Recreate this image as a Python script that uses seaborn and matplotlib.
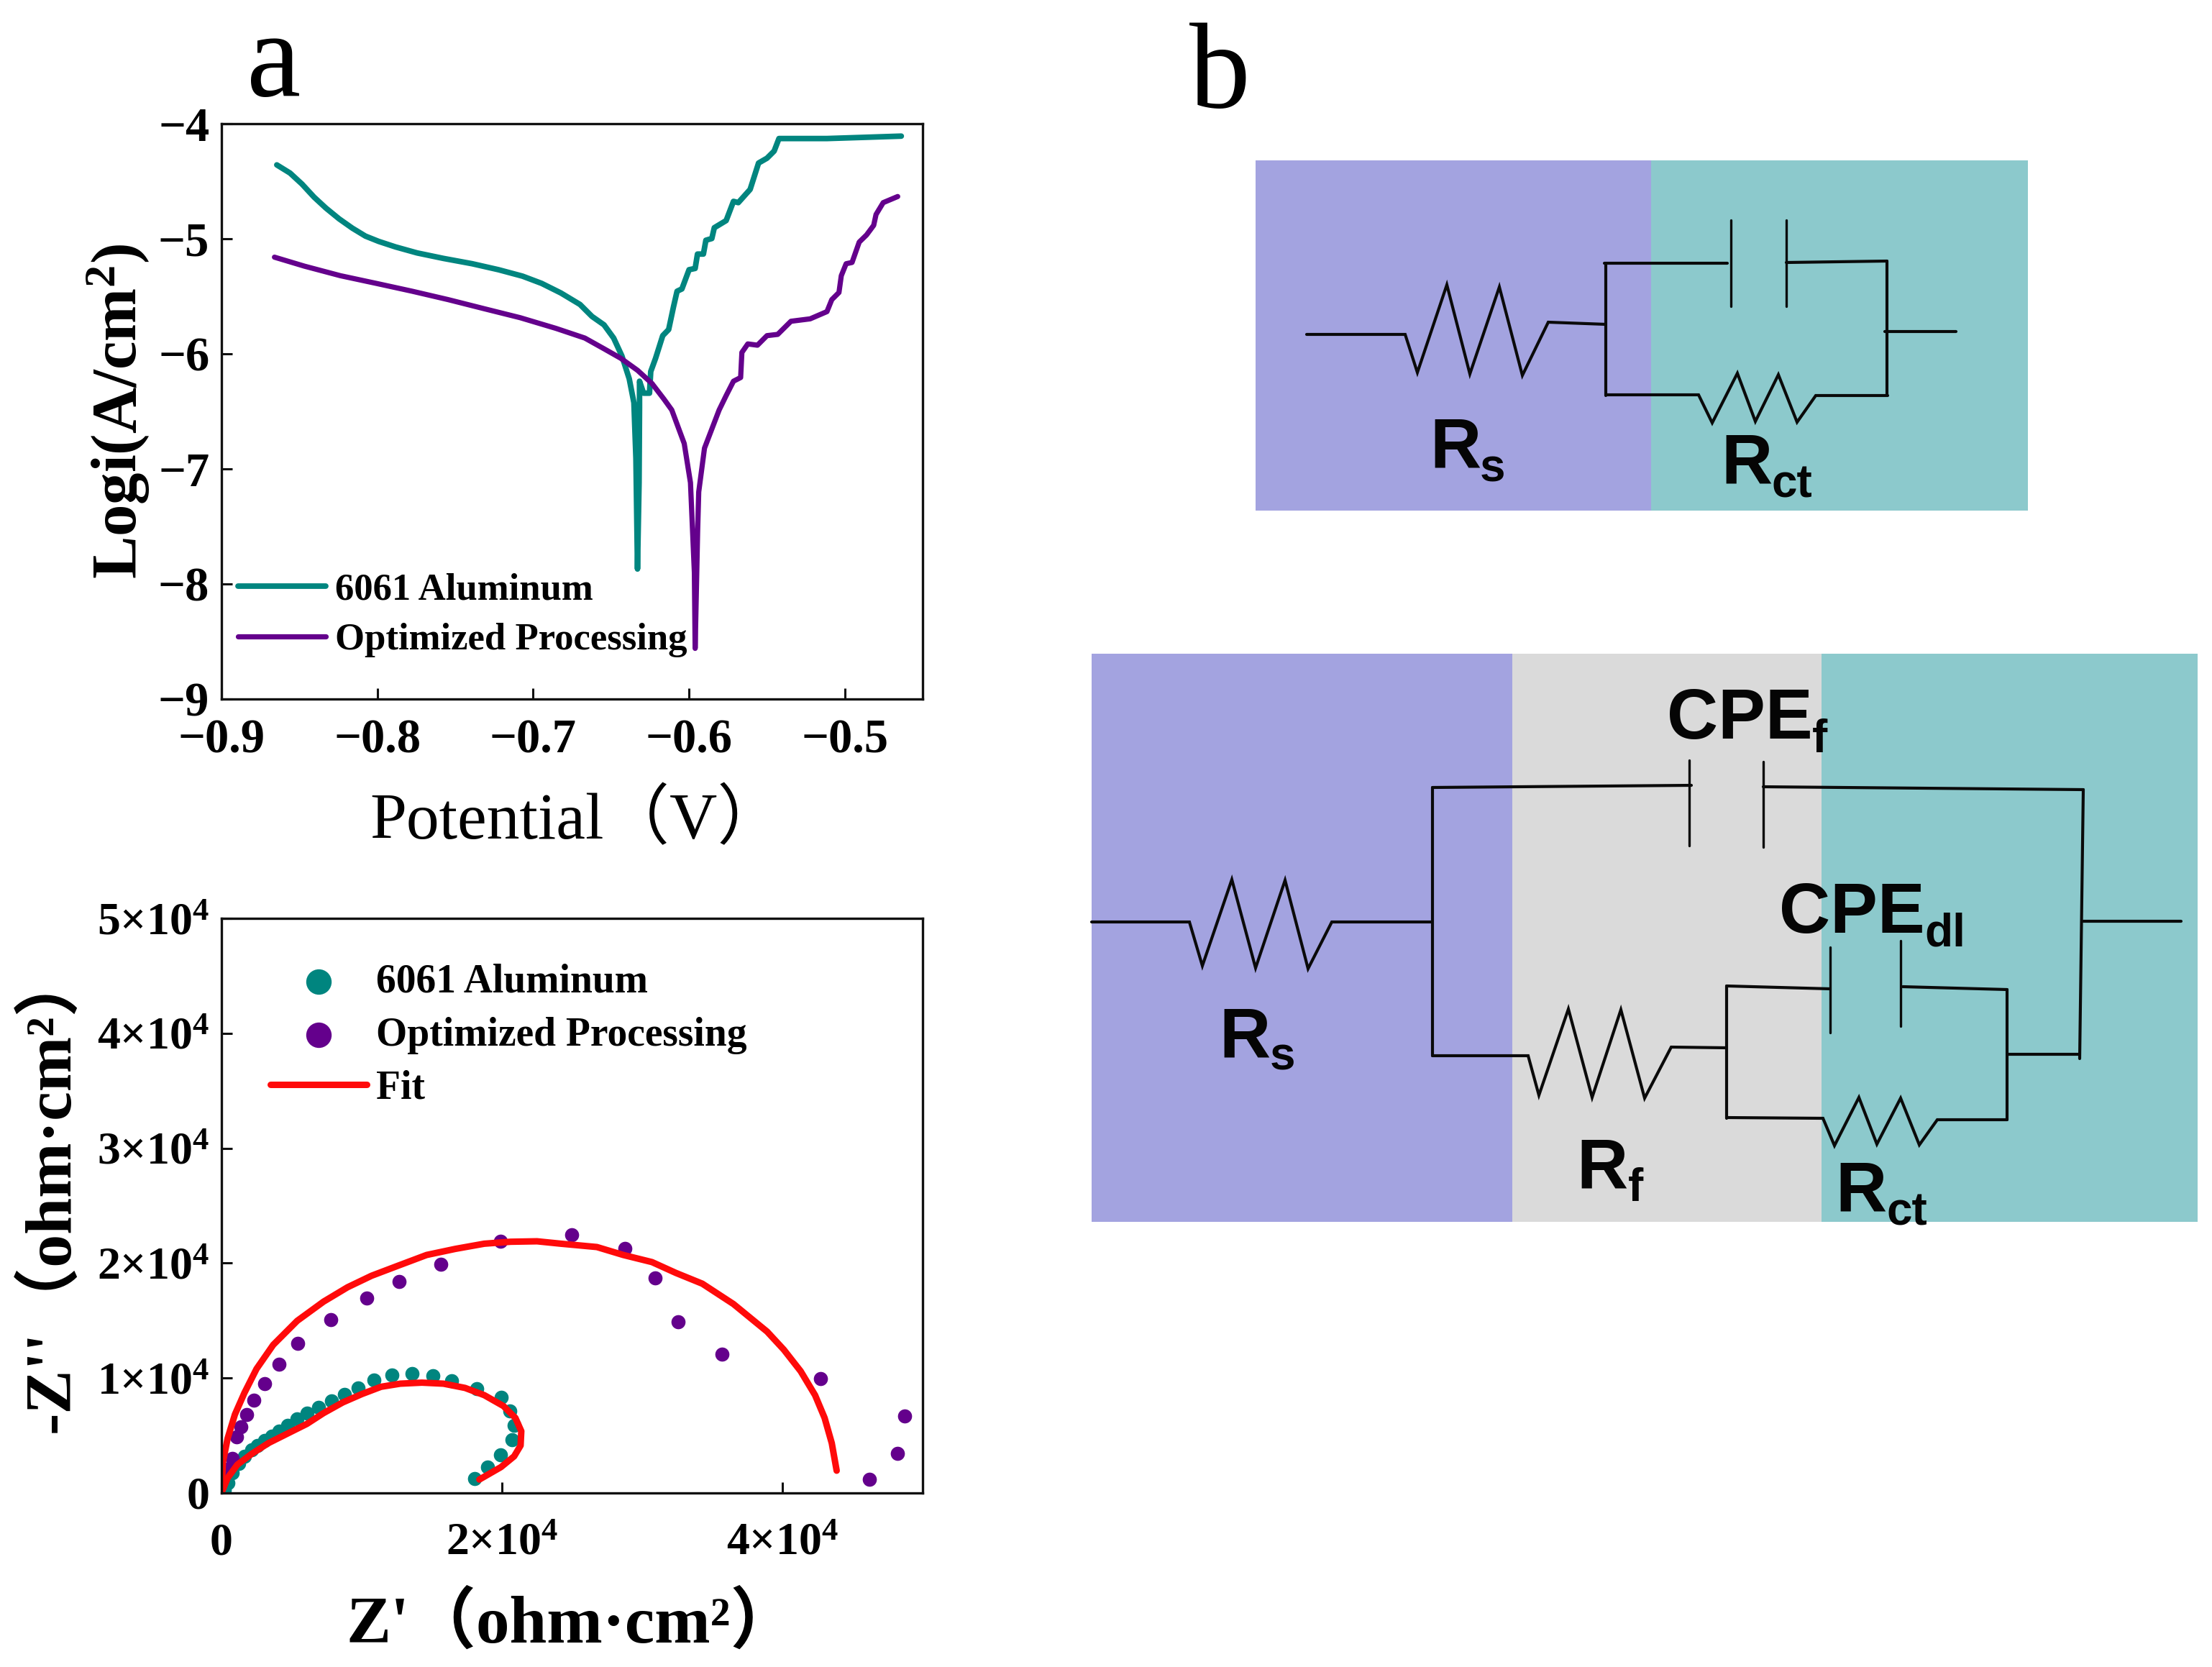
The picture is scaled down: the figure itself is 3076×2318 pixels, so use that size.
import matplotlib
matplotlib.use("Agg")
import matplotlib.pyplot as plt
from matplotlib.patches import Rectangle
import pandas as pd
import seaborn as sns

# polarisation curves (V, log A/cm2)
al_pot = [-0.8645, -0.856, -0.8483, -0.8406, -0.833, -0.8245, -0.816, -0.8076, -0.7991, -0.7883, -0.7745,
          -0.7575, -0.7391, -0.7222, -0.7068, -0.6945, -0.6822, -0.6699, -0.6622, -0.6545, -0.6483, -0.643,
          -0.6383, -0.6353, -0.634, -0.633, -0.632, -0.6317, -0.6317, -0.6291, -0.6253, -0.6245, -0.6214,
          -0.6168, -0.613, -0.6099, -0.6076, -0.6045, -0.5999, -0.596, -0.5945, -0.5907, -0.5891, -0.5853,
          -0.5837, -0.5761, -0.5714, -0.5683, -0.5607, -0.5553, -0.5499, -0.5453, -0.5422, -0.5114, -0.4883,
          -0.4637]
al_log = [-4.358, -4.429, -4.525, -4.638, -4.733, -4.827, -4.908, -4.977, -5.023, -5.071, -5.123,
          -5.171, -5.217, -5.269, -5.325, -5.388, -5.471, -5.571, -5.675, -5.748, -5.863, -6.019,
          -6.217, -6.425, -6.91, -7.87, -7.12, -6.467, -6.238, -6.342, -6.342, -6.154, -6.039,
          -5.842, -5.789, -5.592, -5.456, -5.436, -5.269, -5.258, -5.133, -5.133, -5.013, -4.998,
          -4.904, -4.842, -4.675, -4.686, -4.571, -4.342, -4.30, -4.238, -4.129, -4.129, -4.119,
          -4.108]
opt_pot = [-0.866, -0.8468, -0.8237, -0.8006, -0.7776, -0.7545, -0.7314, -0.7083, -0.6853, -0.6668, -0.6545,
           -0.6437, -0.6329, -0.6237, -0.616, -0.611, -0.603, -0.599, -0.5965, -0.596, -0.5944, -0.5937,
           -0.59, -0.5806, -0.5761, -0.5714, -0.5668, -0.566, -0.5622, -0.556, -0.5499, -0.543, -0.5345,
           -0.5222, -0.5114, -0.5083, -0.5037, -0.5022, -0.4991, -0.4953, -0.4907, -0.486, -0.4814, -0.4799,
           -0.4753, -0.466]
opt_log = [-5.16, -5.238, -5.321, -5.388, -5.456, -5.529, -5.608, -5.686, -5.779, -5.863, -5.956,
           -6.039, -6.144, -6.258, -6.394, -6.488, -6.78, -7.12, -7.9, -8.56, -7.54, -7.2,
           -6.82, -6.488, -6.363, -6.238, -6.206, -5.988, -5.914, -5.925, -5.842, -5.831, -5.717,
           -5.696, -5.633, -5.529, -5.467, -5.321, -5.217, -5.206, -5.029, -4.967, -4.883, -4.789,
           -4.686, -4.633]

# nyquist data, in units of 1e4 ohm cm2
al_zre = [0.019, 0.044, 0.079, 0.121, 0.164, 0.215, 0.258, 0.309, 0.361, 0.412, 0.472, 0.54, 0.609, 0.694, 0.785,
          0.877, 0.976, 1.087, 1.215, 1.357, 1.506, 1.639, 1.819, 1.993, 2.058, 2.087, 2.07, 1.988, 1.896, 1.805]
al_zim = [0.027, 0.09, 0.173, 0.257, 0.319, 0.375, 0.413, 0.455, 0.496, 0.538, 0.59, 0.642, 0.695, 0.747, 0.799,
          0.857, 0.914, 0.98, 1.028, 1.039, 1.018, 0.976, 0.909, 0.834, 0.715, 0.59, 0.465, 0.33, 0.225, 0.125]
opt_zre = [0.036, 0.079, 0.109, 0.138, 0.181, 0.232, 0.309, 0.412, 0.545, 0.779, 1.036, 1.267, 1.566, 1.99,
           2.497, 2.879, 3.091, 3.258, 3.569, 4.27, 4.87, 4.82, 4.62]
opt_zim = [0.204, 0.298, 0.486, 0.576, 0.68, 0.805, 0.951, 1.118, 1.3, 1.508, 1.696, 1.838, 1.988, 2.19,
           2.244, 2.128, 1.869, 1.487, 1.206, 0.997, 0.668, 0.346, 0.117]
fit_al_re = [0, 0.044, 0.113, 0.215, 0.335, 0.489, 0.609, 0.728, 0.865, 1.002, 1.138, 1.275, 1.429, 1.583,
             1.737, 1.874, 2.01, 2.096, 2.138, 2.133, 2.087, 1.993, 1.839]
fit_al_im = [0, 0.131, 0.246, 0.34, 0.434, 0.528, 0.601, 0.695, 0.788, 0.861, 0.924, 0.951, 0.96, 0.951,
             0.914, 0.851, 0.757, 0.653, 0.538, 0.413, 0.319, 0.225, 0.117]
fit_opt_re = [0, 0.01, 0.044, 0.096, 0.164, 0.25, 0.369, 0.54, 0.728, 0.899, 1.07, 1.258, 1.463, 1.668, 1.874,
              2.062, 2.25, 2.42, 2.677, 2.865, 3.07, 3.24, 3.429, 3.651, 3.891, 4.01, 4.13, 4.233, 4.301, 4.352, 4.387]
fit_opt_im = [0, 0.267, 0.476, 0.684, 0.872, 1.08, 1.289, 1.498, 1.665, 1.79, 1.89, 1.977, 2.071, 2.124, 2.169,
              2.186, 2.19, 2.169, 2.14, 2.071, 2.009, 1.915, 1.821, 1.644, 1.404, 1.247, 1.06, 0.851, 0.653, 0.434, 0.194]

pot_ticks = [-0.9, -0.8, -0.7, -0.6, -0.5]
pot_labels = ["\u22120.9", "\u22120.8", "\u22120.7", "\u22120.6", "\u22120.5"]
log_ticks = [-9, -8, -7, -6, -5, -4]
log_labels = ["\u22129", "\u22128", "\u22127", "\u22126", "\u22125", "\u22124"]
zre_ticks = [0, 2, 4]
zre_labels = ["0", r"2×10$^{\mathbf{4}}$", r"4×10$^{\mathbf{4}}$"]
zim_ticks = [0, 1, 2, 3, 4, 5]
zim_labels = ["0", r"1×10$^{\mathbf{4}}$", r"2×10$^{\mathbf{4}}$", r"3×10$^{\mathbf{4}}$",
              r"4×10$^{\mathbf{4}}$", r"5×10$^{\mathbf{4}}$"]

# circuit drawing, figure pixels
top_wires = [
    ([1817, 1954, 1971, 2012, 2044, 2085, 2117, 2153, 2233], [465, 465, 518, 396, 520, 399, 522, 448, 451]),
    ([2233, 2233], [366, 550]),
    ([2231, 2402], [366, 366]),
    ([2484, 2624], [365, 363]),
    ([2624, 2624], [363, 550]),
    ([2621, 2720], [461, 461]),
    ([2233, 2362, 2381, 2416, 2441, 2473, 2499, 2525, 2625], [549, 549, 588, 519, 586, 521, 587, 550, 550]),
]
top_plates = [([2407, 2407], [306, 426]), ([2484, 2484], [306, 426])]
low_wires = [
    ([1518, 1654, 1672, 1713, 1746, 1787, 1819, 1852, 1992], [1282, 1282, 1343, 1223, 1346, 1224, 1347, 1282, 1282]),
    ([1992, 1992], [1095, 1468]),
    ([1992, 2352], [1095, 1092]),
    ([2452, 2897], [1094, 1098]),
    ([2897, 2892], [1098, 1472]),
    ([2897, 3033], [1281, 1281]),
    ([1992, 2125, 2140, 2181, 2214, 2254, 2287, 2324, 2401], [1468, 1468, 1523, 1403, 1526, 1404, 1527, 1456, 1457]),
    ([2401, 2401], [1371, 1555]),
    ([2401, 2545], [1371, 1375]),
    ([2646, 2791], [1372, 1376]),
    ([2791, 2791], [1376, 1557]),
    ([2401, 2535, 2551, 2585, 2610, 2643, 2669, 2694, 2791], [1554, 1555, 1593, 1526, 1591, 1527, 1592, 1557, 1557]),
    ([2791, 2892], [1466, 1466]),
]
low_plates = [([2349, 2349], [1057, 1176]), ([2452, 2452], [1059, 1178]),
              ([2545, 2545], [1317, 1436]), ([2643, 2643], [1308, 1427])]
# main label, x, baseline, subscript, x, baseline
circuit_labels = [
    ("R", 1988, 651, "s", 2058, 670),
    ("R", 2393, 672, "ct", 2464, 691),
    ("R", 1695, 1470, "s", 1766, 1488),
    ("R", 2192, 1652, "f", 2264, 1670),
    ("R", 2552, 1685, "ct", 2624, 1704),
    ("CPE", 2318, 1027, "f", 2520, 1046),
    ("CPE", 2474, 1297, "dl", 2676, 1316),
]

TEAL = "#00857F"
PURPLE = "#64008C"
RED = "#FF0A0A"
FILL_PURPLE = "#A3A3E0"
FILL_TEAL = "#8CC9CC"
FILL_GRAY = "#DADADA"

W, H = 3076, 2318
SERIF = ["Liberation Serif", "Noto Sans CJK SC"]

sns.set_theme(style="ticks")
plt.rcParams["font.family"] = SERIF
plt.rcParams["font.weight"] = "bold"
plt.rcParams["axes.labelweight"] = "bold"
plt.rcParams["axes.labelcolor"] = "black"
plt.rcParams["text.color"] = "black"
plt.rcParams["xtick.labelcolor"] = "black"
plt.rcParams["ytick.labelcolor"] = "black"
plt.rcParams["mathtext.fontset"] = "custom"
plt.rcParams["mathtext.bf"] = "Liberation Serif:bold"
plt.rcParams["mathtext.default"] = "regular"
plt.rcParams["axes.unicode_minus"] = False


def add_pixel_axes(fig, left, top, right, bottom):
    return fig.add_axes([left / W, 1 - bottom / H, (right - left) / W, (bottom - top) / H])


def style_axes(ax, size, xpad, ypad):
    for s in ax.spines.values():
        s.set_visible(True)
        s.set_linewidth(2.4)
        s.set_color("#111111")
    ax.tick_params(direction="in", length=11, width=2.2, color="#111111", labelsize=size)
    ax.tick_params(axis="x", pad=xpad)
    ax.tick_params(axis="y", pad=ypad)


fig = plt.figure(figsize=(W / 100, H / 100), dpi=100)

# panel b goes on an axes that spans the figure
board = fig.add_axes([0, 0, 1, 1])
board.set_xlim(0, W)
board.set_ylim(H, 0)
board.set_axis_off()

for x0, x1, y0, y1, c in [(1746, 2296, 223, 710, FILL_PURPLE), (2296, 2820, 223, 710, FILL_TEAL),
                          (1518, 2103, 909, 1699, FILL_PURPLE), (2103, 2533, 909, 1699, FILL_GRAY),
                          (2533, 3056, 909, 1699, FILL_TEAL)]:
    board.add_patch(Rectangle((x0, y0), x1 - x0, y1 - y0, facecolor=c, edgecolor="none"))

for xs, ys in top_wires + low_wires:
    board.plot(xs, ys, color="#0a0a0a", lw=3.0, solid_joinstyle="miter")
for xs, ys in top_plates + low_plates:
    board.plot(xs, ys, color="#0a0a0a", lw=2.4)

for main, mx, my, sub, sx, sy in circuit_labels:
    board.text(mx, my, main, family="Liberation Sans", weight="bold", fontsize=71, color="#050505", va="baseline")
    board.text(sx, sy, sub, family="Liberation Sans", weight="bold", fontsize=46, color="#050505", va="baseline")

board.text(343, 133, "a", family="Liberation Serif", weight="normal", fontsize=122, va="baseline")
board.text(1654, 149, "b", family="Liberation Serif", weight="normal", fontsize=122, va="baseline")

# polarisation plot
ax1 = add_pixel_axes(fig, 308, 172, 1283, 972)
sns.lineplot(data=pd.DataFrame({"x": al_pot, "y": al_log}), x="x", y="y", sort=False, estimator=None,
             color=TEAL, lw=5.6, solid_joinstyle="round", label="6061 Aluminum", ax=ax1)
sns.lineplot(data=pd.DataFrame({"x": opt_pot, "y": opt_log}), x="x", y="y", sort=False, estimator=None,
             color=PURPLE, lw=5.2, solid_joinstyle="round", label="Optimized Processing", ax=ax1)
ax1.set_xlim(-0.9, -0.45)
ax1.set_ylim(-9, -4)
ax1.set_xticks(pot_ticks, pot_labels)
ax1.set_yticks(log_ticks, log_labels)
style_axes(ax1, 48, 20, 12)
ax1.set_xlabel("Potential（V）", fontsize=66, weight="normal", labelpad=27, x=0.506)
ax1.set_ylabel(r"Logi(A/cm$^{\mathbf{2}}$)", fontsize=64, labelpad=7)
ax1.legend(loc="lower left", bbox_to_anchor=(0.024, 0.0725), frameon=False, fontsize=38, handlelength=2.3,
           handletextpad=0.25, labelspacing=0.41, borderpad=0, borderaxespad=0)

# nyquist plot
ax2 = add_pixel_axes(fig, 308, 1277, 1283, 2076)
sns.scatterplot(x=al_zre, y=al_zim, color=TEAL, s=200, linewidth=0, label="6061 Aluminum", ax=ax2)
sns.scatterplot(x=opt_zre, y=opt_zim, color=PURPLE, s=200, linewidth=0, label="Optimized Processing", ax=ax2)
sns.lineplot(x=fit_al_re, y=fit_al_im, sort=False, estimator=None, color=RED, lw=6.5, solid_joinstyle="round", ax=ax2, label="Fit")
sns.lineplot(x=fit_opt_re, y=fit_opt_im, sort=False, estimator=None, color=RED, lw=6.5, solid_joinstyle="round", ax=ax2)
ax2.set_xlim(0, 5)
ax2.set_ylim(0, 5)
ax2.set_xticks(zre_ticks, zre_labels)
ax2.set_yticks(zim_ticks, zim_labels)
style_axes(ax2, 46, 30, 12)
ax2.set_xlabel("Z'（ohm·cm²）", fontsize=67, labelpad=28)
ax2.set_ylabel("-Z''（ohm·cm²）", fontsize=66, labelpad=14, y=0.527)
ax2.legend(loc="upper left", bbox_to_anchor=(0.07, 0.922), frameon=False, fontsize=40, handlelength=2.4,
           handletextpad=0.25, labelspacing=0.4, borderpad=0, borderaxespad=0, markerscale=1.8)

fig.savefig("out.png", dpi=100)
